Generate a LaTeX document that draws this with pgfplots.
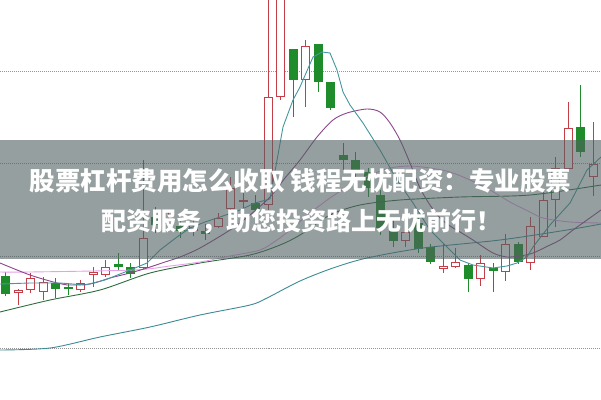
\documentclass[border=0pt]{standalone}
\usepackage{pgfplots}
\pgfplotsset{compat=1.18}
\usepackage{fontspec}
\newfontfamily\cjk{Noto Sans CJK SC}
\definecolor{cred}{RGB}{196,62,72}
\definecolor{cgreen}{RGB}{30,140,42}
\definecolor{maA}{RGB}{70,150,160}
\definecolor{maB}{RGB}{140,70,140}
\definecolor{maC}{RGB}{232,160,232}
\definecolor{maD}{RGB}{46,110,62}
\definecolor{maE}{RGB}{60,140,150}
\definecolor{band}{RGB}{80,96,96}
\definecolor{gridc}{RGB}{150,150,150}
\newcommand\R[7]{%
  \addplot[cred, line width=1bp] coordinates {(#1,#6) (#1,#7)};
  \addplot[draw=cred, fill=white, line width=1bp] coordinates {(#2,#4) (#3,#4) (#3,#5) (#2,#5)} -- cycle;}
\newcommand\G[7]{%
  \addplot[cgreen, line width=1bp] coordinates {(#1,#6) (#1,#7)};
  \addplot[draw=cgreen, fill=cgreen, line width=1bp] coordinates {(#2,#4) (#3,#4) (#3,#5) (#2,#5)} -- cycle;}
\begin{document}
\begin{tikzpicture}
\begin{axis}[
  scale only axis, width=601bp, height=400bp,
  xmin=0, xmax=601, ymin=0, ymax=400, y dir=reverse,
  ticks=none, axis line style={draw=none},
  axis background/.style={fill=white},
  clip=true,
]
% grid lines
\addplot[gridc, densely dotted, line width=1bp] coordinates {(0,71) (601,71)};
\addplot[gridc, densely dotted, line width=1bp] coordinates {(0,163) (601,163)};
\addplot[gridc, densely dotted, line width=1bp] coordinates {(0,256) (601,256)};
\addplot[gridc, densely dotted, line width=1bp] coordinates {(0,348) (601,348)};
% candles: x, xl, xr, body top, body bottom, wick top, wick bottom (pixel rows)
\G{5.5}{1.5}{9.5}{276}{293}{272}{296}
\R{18}{14}{22}{290.5}{292}{289}{305}
\R{30.5}{26.5}{34.5}{278}{289}{273}{293}
\R{43}{39}{47}{282}{291}{277}{300}
\G{55.5}{51.5}{59.5}{283}{288}{278}{298}
\G{68}{64}{72}{287}{288.5}{283}{295}
\R{80.5}{76.5}{84.5}{283}{289}{280}{292}
\R{93}{89}{97}{272.5}{274}{267}{287}
\R{105.5}{101.5}{109.5}{267}{274}{260}{277}
\G{118}{114}{122}{264}{266}{253}{271}
\G{130.5}{126.5}{134.5}{267}{273}{263}{278}
\R{143}{139}{147}{238}{267}{160}{270}
\G{155.5}{151.5}{159.5}{217}{224}{207}{233}
\R{168}{164}{172}{221.5}{223}{212}{232}
\G{180.5}{176.5}{184.5}{226}{230}{220}{238}
\R{193}{189}{197}{225}{230}{218}{236}
\G{205.5}{201.5}{209.5}{231}{233}{224}{240}
\R{218}{214}{222}{218}{226}{213}{228}
\R{230.5}{226.5}{234.5}{188}{208}{177}{218}
\R{243}{239}{247}{200}{201.5}{193}{212}
\G{255.5}{251.5}{259.5}{203}{209}{195}{215}
\R{268}{264}{272}{97}{204}{-20}{210}
\R{280.5}{276.5}{284.5}{-5}{96}{-20}{100}
\G{293}{289}{297}{49}{79}{49}{117}
\R{305.5}{301.5}{309.5}{46}{79}{40}{107}
\G{318}{314}{322}{44}{81}{44}{92}
\G{330.5}{326.5}{334.5}{82}{107}{82}{110}
\G{343}{339}{347}{155}{159}{143}{170}
\G{355.5}{351.5}{359.5}{160}{170}{152}{190}
\G{368}{364}{372}{172}{187}{168}{197}
\G{380.5}{376.5}{384.5}{195}{227}{190}{235}
\G{393}{389}{397}{228}{240}{220}{247}
\R{405.5}{401.5}{409.5}{232}{240}{222}{247}
\G{418}{414}{422}{223}{248}{218}{253}
\G{430.5}{426.5}{434.5}{247}{261}{244}{264}
\R{443}{439}{447}{266.5}{268}{243}{273}
\R{455.5}{451.5}{459.5}{262}{266}{248}{268}
\G{468}{464}{472}{265}{278}{263}{292}
\R{480.5}{476.5}{484.5}{263}{278}{255}{286}
\G{493}{489}{497}{268.5}{270}{263}{292}
\R{505.5}{501.5}{509.5}{244}{271}{234}{281}
\G{518}{514}{522}{244}{261}{242}{264}
\R{530.5}{526.5}{534.5}{226}{262}{217}{270}
\R{543}{539}{547}{200}{236}{192}{237}
\R{555.5}{551.5}{559.5}{168}{199}{157}{227}
\R{568}{564}{572}{128}{168}{102}{170}
\G{580.5}{576.5}{584.5}{127}{151}{85}{157}
\R{593}{589}{597}{164}{176}{122}{196}
% moving averages
\addplot[maE, line width=0.9bp, smooth] coordinates {(0,350) (50,348) (100,337) (150,327) (200,315) (250,305) (267,298) (300,281) (333,268) (367,258) (423,248) (500,240) (567,230) (601,224)};
\addplot[maD, line width=0.9bp, smooth] coordinates {(0,312) (50,300) (100,290) (150,273) (200,263) (250,255) (280,245) (300,235) (330,215) (360,205) (400,200) (460,197) (530,195) (601,185)};
\addplot[maC, line width=0.9bp, smooth] coordinates {(0,272) (30,272) (133,270) (170,266) (200,262) (230,256) (260,250) (277,240) (290,230) (310,213) (330,198) (350,185) (370,175) (390,168) (410,166) (430,168) (450,172) (470,180) (490,190) (510,202) (530,212) (543,218) (570,222) (601,223)};
\addplot[maB, line width=0.9bp, smooth] coordinates {(0,263) (30,275) (57,283) (67,285) (90,284) (110,278) (130,273) (147,268) (165,262) (180,257) (200,248) (230,230) (250,215) (270,197) (285,178) (300,160) (317,137) (333,120) (347,113) (367,109) (380,112) (390,123) (400,140) (410,163) (420,188) (430,205) (440,218) (450,226) (460,232) (473,240) (493,253) (507,257) (520,256) (533,253) (550,245) (560,240) (573,230) (587,220) (601,210)};
\addplot[maA, line width=0.9bp] coordinates {(0,284) (30,283) (60,283) (85,285) (105,280) (120,274) (135,268) (147,263) (160,250) (177,237) (190,228) (205,222) (220,217) (240,210) (255,203) (270,199) (283,127) (293,100) (300,87) (303,80) (313,57) (322,52) (330,53) (337,70) (343,92) (350,105) (363,123) (380,150) (397,180) (413,203) (430,230) (447,247) (460,260) (473,265) (493,268) (507,266) (517,263) (527,257) (533,247) (550,225) (570,203) (587,170) (601,157)};
% banner
\addplot[draw=none, fill=band, fill opacity=0.6] coordinates {(0,140) (601,140) (601,258.5) (0,258.5)} -- cycle;
\node[anchor=base, text=white, font=\cjk\bfseries\fontsize{25.5bp}{30bp}\selectfont, inner sep=0pt] at (axis cs:300.5,190) {股票杠杆费用怎么收取 钱程无忧配资：专业股票};
\node[anchor=base, text=white, font=\cjk\bfseries\fontsize{25bp}{30bp}\selectfont, inner sep=0pt] at (axis cs:301,230) {配资服务，助您投资路上无忧前行！};
\end{axis}
\end{tikzpicture}
\end{document}
